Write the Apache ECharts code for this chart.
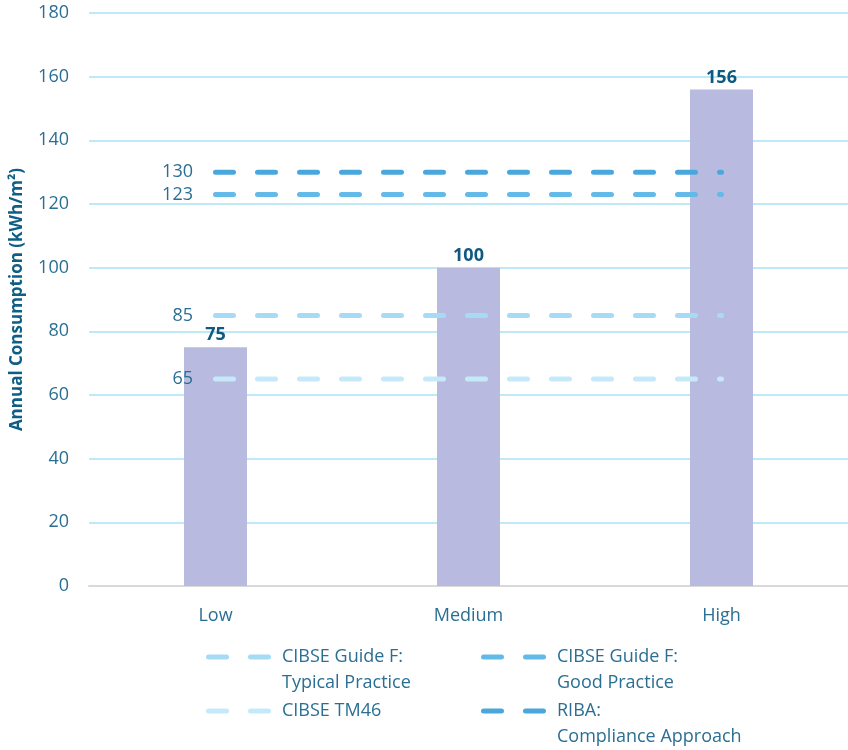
<!DOCTYPE html>
<html>
<head>
<meta charset="utf-8">
<script src="https://cdn.jsdelivr.net/npm/echarts@6/dist/echarts.min.js"></script>
<style>html,body{margin:0;padding:0;background:#fff}#c{width:848px;height:750px}</style>
</head>
<body>
<div id="c"></div>
<script>
const categories = ['Low', 'Medium', 'High'];
const consumption = [75, 100, 156];
const typicalPractice = [85, 85, 85];
const goodPractice = [123, 123, 123];
const tm46 = [65, 65, 65];
const riba = [130, 130, 130];
const yTicks = { min: 0, max: 180, interval: 20 };

const names = {
  typical: 'CIBSE Guide F:\nTypical Practice',
  good: 'CIBSE Guide F:\nGood Practice',
  tm46: 'CIBSE TM46',
  riba: 'RIBA:\nCompliance Approach'
};

const FONT = 'Open Sans';
const TXT = '#2a6f93';
const ICON = 'path://M2.5,0H20.5A2.5,2.5,0,0,1,20.5,5H2.5A2.5,2.5,0,0,1,2.5,0ZM44.5,0H62.5A2.5,2.5,0,0,1,62.5,5H44.5A2.5,2.5,0,0,1,44.5,0Z';

function lineSeries(name, data, color) {
  return {
    type: 'line',
    name: name,
    data: data,
    color: color,
    symbol: 'circle',
    symbolSize: 1,
    showSymbol: true,
    lineStyle: { color: color, width: 5, type: [18, 24], cap: 'round' },
    itemStyle: { color: color },
    label: {
      show: true, position: 'left', distance: 22,
      color: TXT, fontSize: 18, fontFamily: FONT,
      formatter: p => p.dataIndex === 0 ? String(p.value) : ''
    },
    emphasis: { disabled: true },
    z: 3
  };
}

function legend(name, left, top, twoLine) {
  return {
    data: [name], left: left, top: top, padding: 0,
    itemWidth: 65, itemHeight: 5, icon: ICON, selectedMode: false,
    formatter: n => twoLine ? '\n' + n : n,
    textStyle: { fontSize: 18, color: TXT, fontFamily: FONT, lineHeight: 26,
      padding: [0, 0, 0, 6] }
  };
}

const chart = echarts.init(document.getElementById('c'), null, { renderer: 'canvas' });
chart.setOption({
  animation: false,
  textStyle: { fontFamily: FONT },
  grid: { left: 89, right: 0, top: 13, bottom: 164, containLabel: false },
  xAxis: {
    type: 'category', data: categories,
    axisLine: { lineStyle: { color: '#d9d9d9', width: 2 } },
    axisTick: { show: false },
    axisLabel: { color: TXT, fontSize: 18, fontFamily: FONT, margin: 21 }
  },
  yAxis: {
    type: 'value', min: yTicks.min, max: yTicks.max, interval: yTicks.interval,
    axisLine: { show: false }, axisTick: { show: false },
    splitLine: { lineStyle: { color: '#bfe8f8', width: 2 } },
    axisLabel: { color: TXT, fontSize: 18, fontFamily: FONT, margin: 20 },
    name: 'Annual Consumption (kWh/m²)',
    nameLocation: 'middle', nameRotate: 90, nameGap: 63,
    nameTextStyle: { color: '#0f5e86', fontSize: 17, fontWeight: 'bold', fontFamily: FONT }
  },
  legend: [
    legend(names.typical, 206, 618, true),
    legend(names.good, 481, 618, true),
    legend(names.tm46, 206, 698, false),
    legend(names.riba, 481, 672, true)
  ],
  series: [
    {
      type: 'bar', name: 'Consumption', data: consumption, barWidth: 63,
      itemStyle: { color: '#b8bbdf' },
      label: { show: true, position: 'top', distance: 3, color: '#0e5a80',
        fontSize: 18, fontWeight: 'bold', fontFamily: FONT },
      emphasis: { disabled: true },
      z: 2
    },
    lineSeries(names.typical, typicalPractice, '#a6dbf6'),
    lineSeries(names.good, goodPractice, '#63bae9'),
    lineSeries(names.tm46, tm46, '#c6e9f9'),
    lineSeries(names.riba, riba, '#4aa7db')
  ]
});
</script>
</body>
</html>
